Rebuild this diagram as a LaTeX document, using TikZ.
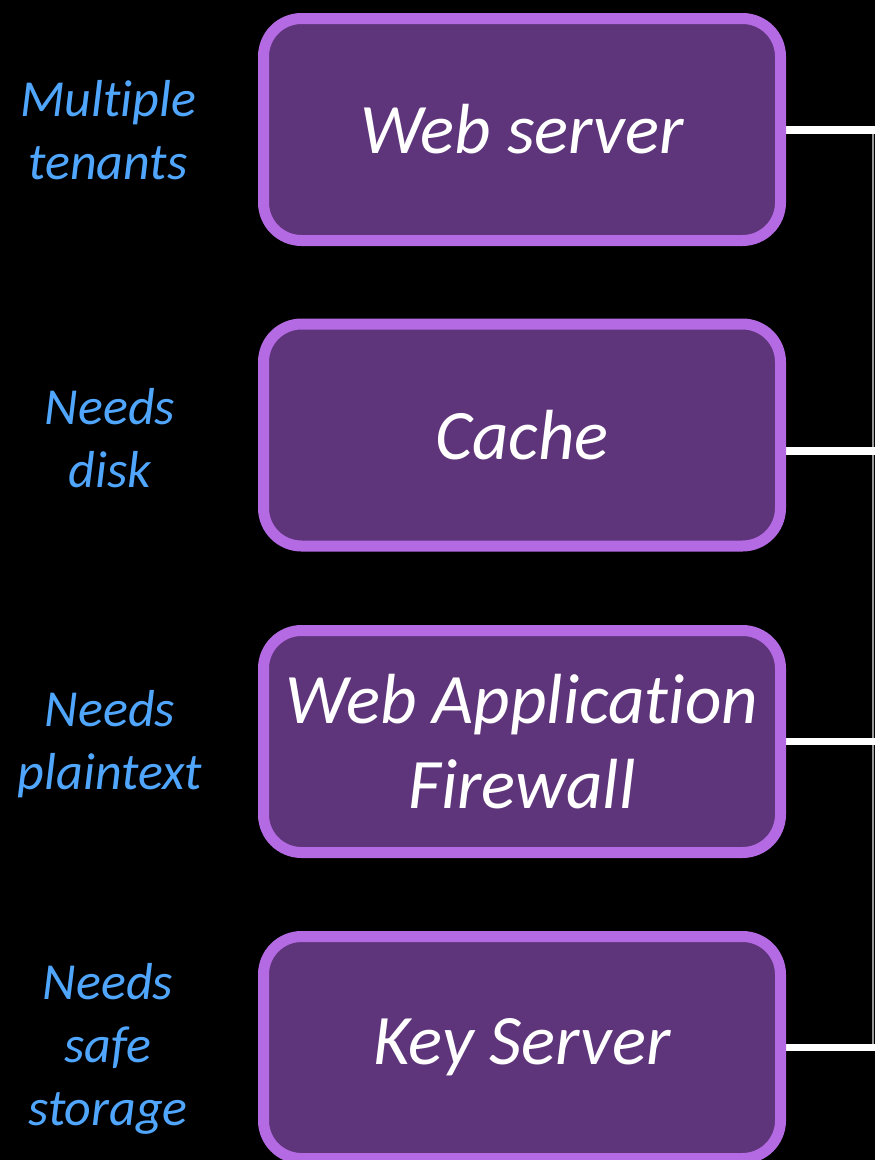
\documentclass[tikz,border=0pt]{standalone}
\usepackage{fontspec}
\setmainfont{Carlito}[Ligatures=NoCommon]
\definecolor{boxfill}{RGB}{94,52,122}
\definecolor{boxline}{RGB}{180,106,226}
\definecolor{lblue}{RGB}{80,166,252}
\pgfdeclarelayer{bg}
\pgfsetlayers{bg,main}
\tikzset{
  svc/.style={draw=boxline, fill=boxfill, line width=11pt, rounded corners=38pt,
    minimum width=517pt, minimum height=222pt, inner sep=0pt, align=center,
    text=white, font=\fontsize{71}{85}\selectfont\itshape},
  lbl/.style={align=center, text=lblue, inner sep=0pt,
    font=\fontsize{52}{63}\selectfont\itshape},
  conn/.style={draw=white, line width=7.5pt},
  trunk/.style={draw=black!40!white, line width=1.5pt}
}
\begin{document}
\begin{tikzpicture}[x=1pt,y=-1pt]
\useasboundingbox (0,0) rectangle (875,1160);
\begin{pgfonlayer}{bg}
\fill[black] (0,0) rectangle (875,1160);
\end{pgfonlayer}

\node[svc] (web) at (522,129.5) {Web server};
\node[svc] (cache) at (522,435) {Cache};
\node[svc] (waf) at (522,741.5) {Web Application\\Firewall};
\node[svc] (key) at (522,1047.5) {Key Server};

\node[lbl] (l1) at (108,130) {Multiple\\tenants};
\node[lbl] (l2) at (110,438) {Needs\\disk};
\node[lbl] (l3) at (110,744) {Needs\\plaintext};
\node[lbl] (l4) at (108,1049) {Needs\\safe\\storage};

\coordinate (t1) at (873,130);
\coordinate (t2) at (873,451);
\coordinate (t3) at (873,741.5);
\coordinate (t4) at (873,1047.5);
\coordinate (e1) at (876,130);
\coordinate (e2) at (876,451);
\coordinate (e3) at (876,741.5);
\coordinate (e4) at (876,1047.5);

\begin{pgfonlayer}{bg}
\draw[trunk] (t1) -- (t4);
\draw[conn] (web.east |- e1) -- (e1);
\draw[conn] (cache.east |- e2) -- (e2);
\draw[conn] (waf.east |- e3) -- (e3);
\draw[conn] (key.east |- e4) -- (e4);
\end{pgfonlayer}
\end{tikzpicture}
\end{document}
